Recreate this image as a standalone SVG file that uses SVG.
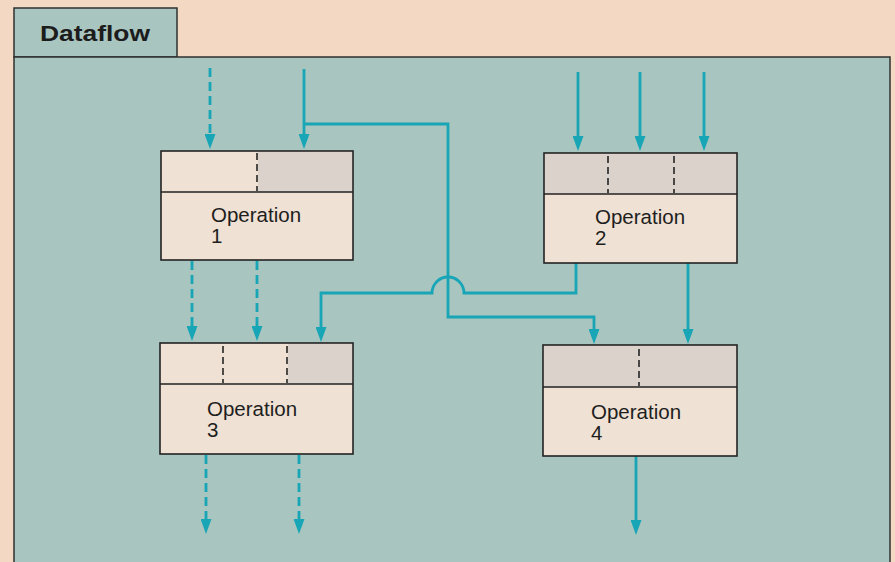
<svg xmlns="http://www.w3.org/2000/svg" width="895" height="562" viewBox="0 0 895 562">
<defs>
<marker id="ah" viewBox="0 0 15 11" refX="5" refY="5.5" markerWidth="15" markerHeight="11" markerUnits="userSpaceOnUse" orient="auto">
<path d="M0,0 L15,5.5 L0,11 z" fill="#18a6b6"/>
</marker>
<style>
.frame{fill:#a9c5c0;stroke:#2e3030;stroke-width:1.5}
.box{fill:#efe1d3;stroke:#222;stroke-width:1.6}
.shade{fill:#dbd3cb;stroke:none}
.sep{stroke:#222;stroke-width:1.6}
.dv{stroke:#1a1a1a;stroke-width:1.5;stroke-dasharray:7,4}
.lbl{font-family:"Liberation Sans",Arial,sans-serif;font-size:20.5px;fill:#1e1e1e}
.w{fill:none;stroke:#18a6b6;stroke-width:2.8;marker-end:url(#ah)}
.d{stroke-dasharray:9,5}
</style>
</defs>
<rect x="0" y="0" width="895" height="562" fill="#f3d9c3"/>
<rect class="frame" x="14" y="8" width="163" height="49"/>
<rect class="frame" x="14" y="57" width="876" height="510"/>
<text x="40" y="41" font-family="'Liberation Sans',Arial,sans-serif" font-weight="bold" font-size="22" fill="#1c1c1c" textLength="110" lengthAdjust="spacingAndGlyphs">Dataflow</text>

<g id="connectors">
<path class="w d" d="M210,68 V139"/>
<path class="w" d="M304,69 V139"/>
<path class="w" d="M304,124 H448 V317 H594 V334"/>
<path class="w" d="M578,72 V141"/>
<path class="w" d="M640,72 V141"/>
<path class="w" d="M704,72 V141"/>
<path class="w d" d="M192,261 V331"/>
<path class="w d" d="M257,261 V331"/>
<path class="w" d="M576,263 V293 H464 A16,16 0 0 0 432,293 H321 V332"/>
<path class="w" d="M688,263 V334"/>
<path class="w d" d="M206,455 V524"/>
<path class="w d" d="M299,455 V524"/>
<path class="w" d="M636,456 V525"/>
</g>

<g id="op1">
<rect class="box" x="161" y="151" width="192" height="109"/>
<rect class="shade" x="258" y="152" width="94" height="40"/>
<line class="sep" x1="161" y1="192" x2="353" y2="192"/>
<line class="dv" x1="257" y1="153" x2="257" y2="191"/>
<text class="lbl" x="211" y="222">Operation</text>
<text class="lbl" x="211" y="243">1</text>
</g>

<g id="op2">
<rect class="box" x="544" y="153" width="193" height="110"/>
<rect class="shade" x="545" y="154" width="191" height="40"/>
<line class="sep" x1="544" y1="194" x2="737" y2="194"/>
<line class="dv" x1="608" y1="156" x2="608" y2="193"/>
<line class="dv" x1="674" y1="156" x2="674" y2="193"/>
<text class="lbl" x="595" y="224">Operation</text>
<text class="lbl" x="595" y="245">2</text>
</g>

<g id="op3">
<rect class="box" x="160" y="343" width="193" height="111"/>
<rect class="shade" x="288" y="344" width="64" height="40"/>
<line class="sep" x1="160" y1="384" x2="353" y2="384"/>
<line class="dv" x1="223" y1="346" x2="223" y2="383"/>
<line class="dv" x1="287" y1="346" x2="287" y2="383"/>
<text class="lbl" x="207" y="416">Operation</text>
<text class="lbl" x="207" y="437">3</text>
</g>

<g id="op4">
<rect class="box" x="543" y="345" width="194" height="111"/>
<rect class="shade" x="544" y="346" width="192" height="41"/>
<line class="sep" x1="543" y1="387" x2="737" y2="387"/>
<line class="dv" x1="639" y1="349" x2="639" y2="386"/>
<text class="lbl" x="591" y="419">Operation</text>
<text class="lbl" x="591" y="440">4</text>
</g>
</svg>
